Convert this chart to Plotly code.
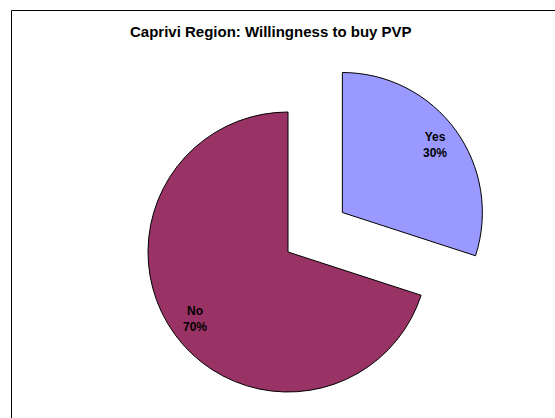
import math
import plotly.graph_objects as go

# Survey answers
labels = ["Yes", "No"]
values = [30, 70]
colors = ["#9999FF", "#993366"]
exploded = [True, False]
title_text = "Caprivi Region: Willingness to buy PVP"

W, H = 555, 418
CX, CY, R = 288, 252, 140      # pixel centre and radius of the pie
PULL = 0.48                    # explode distance as a fraction of the radius
LABEL_R = 0.82                 # label distance from the centre, fraction of radius
FONT = "Liberation Sans, Arial, sans-serif"

total = sum(values)

# mid-angle of each wedge, degrees clockwise from 12 o'clock
mids = []
start = 0.0
for v in values:
    span = 360.0 * v / total
    mids.append(start + span / 2)
    start += span

fig = go.Figure()
annotations = []

for i, lab in enumerate(labels):
    a = math.radians(mids[i])
    off = PULL * R if exploded[i] else 0.0
    px = CX + off * math.sin(a)
    py = CY - off * math.cos(a)

    # each wedge is drawn by its own pie so it can be shifted independently
    slice_colors = [colors[j] if j == i else "rgba(0,0,0,0)" for j in range(len(labels))]
    slice_lines = [1 if j == i else 0 for j in range(len(labels))]
    fig.add_trace(go.Pie(
        labels=labels,
        values=values,
        sort=False,
        direction="clockwise",
        rotation=0,
        textinfo="none",
        hoverinfo="label+percent",
        showlegend=False,
        marker=dict(colors=slice_colors, line=dict(color="#000000", width=slice_lines)),
        domain=dict(x=[(px - R) / W, (px + R) / W],
                    y=[1 - (py + R) / H, 1 - (py - R) / H]),
    ))

    lx = px + LABEL_R * R * math.sin(a)
    ly = py - LABEL_R * R * math.cos(a)
    pct = 100.0 * values[i] / total
    annotations.append(dict(
        x=lx / W, y=1 - ly / H, xref="paper", yref="paper",
        text=f"{lab}<br>{pct:.0f}%", showarrow=False,
        xanchor="center", yanchor="middle",
        font=dict(family=FONT, size=12, color="#000000", weight="bold"),
    ))

annotations.append(dict(
    x=271 / W, y=1 - 32 / H, xref="paper", yref="paper",
    text=title_text, showarrow=False, xanchor="center", yanchor="middle",
    font=dict(family=FONT, size=15, color="#000000", weight="bold"),
))

fig.update_layout(
    width=W, height=H,
    margin=dict(l=0, r=0, t=0, b=0),
    paper_bgcolor="white",
    plot_bgcolor="white",
    annotations=annotations,
    shapes=[dict(type="rect", xref="paper", yref="paper",
                 x0=11.5 / W, x1=1.05, y0=-0.05, y1=1 - 10.5 / H,
                 line=dict(color="#000000", width=1), layer="below")],
)

fig.write_html("out.html")
